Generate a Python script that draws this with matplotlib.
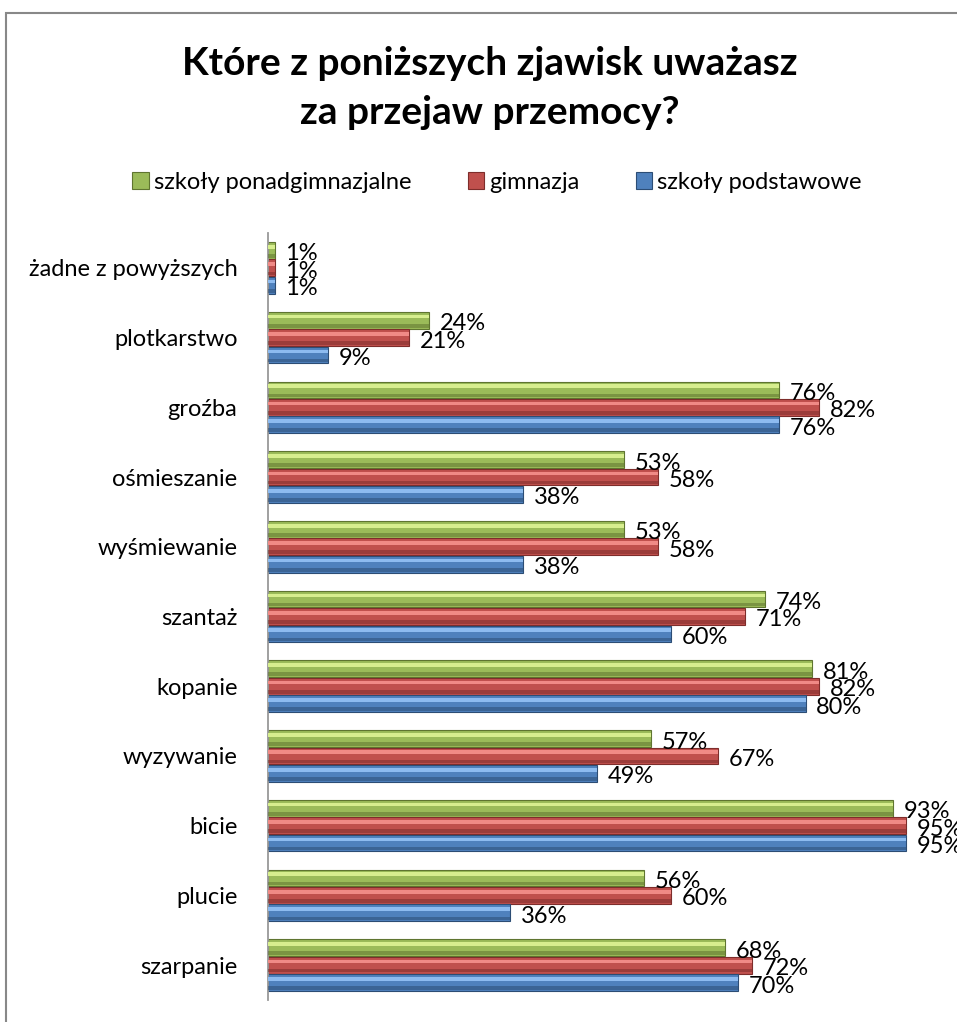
import numpy as np
import matplotlib
matplotlib.use("Agg")
import matplotlib.pyplot as plt
from matplotlib.patches import Rectangle

plt.rcParams['font.family'] = ['Lato', 'DejaVu Sans']

# data
categories = ["żadne z powyższych", "plotkarstwo", "groźba", "ośmieszanie",
              "wyśmiewanie", "szantaż", "kopanie", "wyzywanie", "bicie",
              "plucie", "szarpanie"]
ponadgimn = [1, 24, 76, 53, 53, 74, 81, 57, 93, 56, 68]
gimnazja = [1, 21, 82, 58, 58, 71, 82, 67, 95, 60, 72]
podstawowe = [1, 9, 76, 38, 38, 60, 80, 49, 95, 36, 70]
series_names = ["szkoły ponadgimnazjalne", "gimnazja", "szkoły podstawowe"]

fig = plt.figure(figsize=(9.57, 10.22), dpi=100)
ax = fig.add_axes([268/957, 1-1000/1022, 672/957, 767/1022])

# colors: base, light, dark
cols = [("#9BBB59", "#D7EE8E", "#5F7530"),
        ("#C0504D", "#F08A86", "#7E2D2B"),
        ("#4F81BD", "#8DBBF0", "#2C4D75")]

y = np.arange(len(categories))
h = 0.24
offs = [-0.25, 0.0, 0.25]
handles = []
for vals, off, c, name in zip([ponadgimn, gimnazja, podstawowe], offs, cols, series_names):
    yy = y + off
    b = ax.barh(yy, vals, height=h, color=c[0], edgecolor=c[2], linewidth=0.8, zorder=2)
    # bevel highlight + shade
    ax.barh(yy - h*0.22, vals, height=h*0.22, color=c[1], linewidth=0, zorder=3)
    ax.barh(yy + h*0.33, vals, height=h*0.22, color=c[2], alpha=0.55, linewidth=0, zorder=3)
    handles.append(b)
    for yi, v in zip(yy, vals):
        ax.text(v + 1.6, yi + 0.05, f"{v}%", va="center", ha="left", fontsize=17,
                color="black", clip_on=False, zorder=4)

ax.set_xlim(0, 100)
ax.set_ylim(len(categories) - 0.5, -0.5)
ax.set_yticks(y)
ax.set_yticklabels(categories, fontsize=17)
ax.tick_params(axis="y", length=0, pad=22)
ax.set_xticks([])
for s in ["top", "right", "bottom"]:
    ax.spines[s].set_visible(False)
ax.spines["left"].set_color("#999999")
ax.spines["left"].set_linewidth(1.3)

fig.text(490/957, 1-88/1022, "Które z poniższych zjawisk uważasz\nza przejaw przemocy?",
         ha="center", va="center", fontsize=28, fontweight="bold", linespacing=1.45)

leg = fig.legend(handles, series_names, loc="center", bbox_to_anchor=(497/957, 1-182/1022),
                 ncol=3, frameon=False, fontsize=17, handlelength=0.7, handleheight=0.7,
                 handletextpad=0.2, columnspacing=2.4)

# chart border
fig.add_artist(Rectangle((6/957, -0.05), 1.1, 1-13/1022+0.05, transform=fig.transFigure,
                         fill=False, edgecolor="#888888", linewidth=1.5))

fig.savefig("out.png", dpi=100)
